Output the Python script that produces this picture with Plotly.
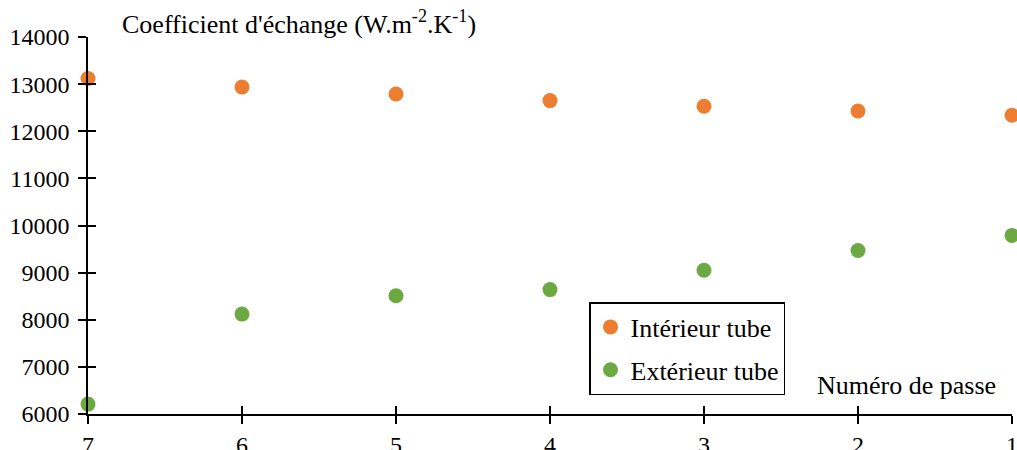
import plotly.graph_objects as go

passes = [7, 6, 5, 4, 3, 2, 1]
interieur = [13120, 12940, 12790, 12650, 12530, 12430, 12340]
exterieur = [6210, 8120, 8510, 8640, 9050, 9470, 9790]
y_ticks = [6000, 7000, 8000, 9000, 10000, 11000, 12000, 13000, 14000]

FONT = "Liberation Serif, Times New Roman, serif"
fig = go.Figure()
fig.add_trace(go.Scatter(x=passes, y=interieur, mode="markers", name="Intérieur tube",
                         legendgroup="a",
                         marker=dict(color="#ED7D31", size=15), cliponaxis=False))
fig.add_trace(go.Scatter(x=passes, y=exterieur, mode="markers", name="Extérieur tube",
                         legendgroup="b",
                         marker=dict(color="#6DA943", size=15), cliponaxis=False))
fig.add_trace(go.Scatter(x=[passes[0]], y=[y_ticks[0]], xaxis="x2", yaxis="y2", mode="markers",
                         marker=dict(opacity=0), showlegend=False, hoverinfo="skip"))

W, H = 1017, 450
# desired plot area in window pixels (body margin removed by post_script)
X0, X1, Y0, Y1 = 88, 1012, 37, 414
L, T = X0, Y0
R, B = W - X1, H - Y1
pw, ph = X1 - X0, Y1 - Y0

def px(x):
    return (x - X0) / pw

def py(y):
    return (Y1 - y) / ph

fig.update_layout(
    width=W, height=H, margin=dict(l=L, r=R, t=T, b=B, autoexpand=False),
    paper_bgcolor="white", plot_bgcolor="white",
    font=dict(family=FONT, size=24, color="black"),
    xaxis=dict(range=[7, 1], tickvals=passes, ticktext=[str(p) for p in passes],
               showgrid=False, zeroline=False, automargin=False,
               showline=True, linecolor="black", linewidth=1.5,
               ticks="outside", ticklen=8, tickwidth=1.5, tickcolor="black",
               ticklabelstandoff=0, tickfont=dict(family=FONT, size=24)),
    yaxis=dict(range=[6000, 14000], tickvals=y_ticks, ticktext=[str(v) for v in y_ticks],
               showgrid=False, zeroline=False, automargin=False,
               showline=True, linecolor="black", linewidth=1.5,
               ticks="outside", ticklen=8, tickwidth=1.5, tickcolor="black",
               ticklabelstandoff=4, tickfont=dict(family=FONT, size=24)),
    xaxis2=dict(range=[7, 1], tickvals=passes, overlaying="x", showgrid=False, zeroline=False,
                showline=False, ticks="inside", ticklen=8, tickwidth=1.5, tickcolor="black",
                showticklabels=False, automargin=False),
    yaxis2=dict(range=[6000, 14000], tickvals=y_ticks, overlaying="y", showgrid=False, zeroline=False,
                showline=False, ticks="inside", ticklen=8, tickwidth=1.5, tickcolor="black",
                showticklabels=False, automargin=False),
    legend=dict(x=px(589), y=py(302), xanchor="left", yanchor="top",
                bordercolor="black", borderwidth=1.5, bgcolor="white",
                font=dict(family=FONT, size=26), itemwidth=30, tracegroupgap=6),
    annotations=[
        dict(text="Coefficient d'échange (W.m<sup>-2</sup>.K<sup>-1</sup>)", x=px(120), y=py(22),
             xref="paper", yref="paper", xanchor="left", yanchor="middle", showarrow=False,
             font=dict(family=FONT, size=26)),
        dict(text="Numéro de passe", x=px(998), y=py(385),
             xref="paper", yref="paper", xanchor="right", yanchor="middle", showarrow=False,
             font=dict(family=FONT, size=26)),
        # last tick label at the right edge (plotly drops it because it overflows)
        dict(text=str(passes[-1]), x=passes[-1], y=py(445), xref="x", yref="paper",
             xanchor="center", yanchor="middle", showarrow=False,
             font=dict(family=FONT, size=24)),
    ],
)
fig.write_html("out.html", config={"displayModeBar": False},
               post_script="document.body.style.margin='0';document.body.style.overflow='hidden';")
